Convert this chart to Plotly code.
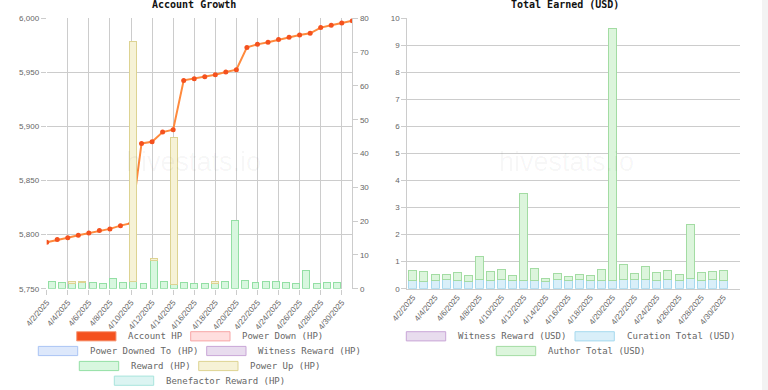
import plotly.graph_objects as go

# ---------------- data ----------------
dates = ["4/2/2025", "4/3/2025", "4/4/2025", "4/5/2025", "4/6/2025", "4/7/2025",
         "4/8/2025", "4/9/2025", "4/10/2025", "4/11/2025", "4/12/2025", "4/13/2025",
         "4/14/2025", "4/15/2025", "4/16/2025", "4/17/2025", "4/18/2025", "4/19/2025",
         "4/20/2025", "4/21/2025", "4/22/2025", "4/23/2025", "4/24/2025", "4/25/2025",
         "4/26/2025", "4/27/2025", "4/28/2025", "4/29/2025", "4/30/2025", "5/1/2025"]

account_hp = [5793.0, 5795.4, 5797.2, 5799.4, 5801.6, 5803.7, 5805.3, 5808.3, 5810.5,
              5884.3, 5885.8, 5894.8, 5897.0, 5942.6, 5944.2, 5946.0, 5947.9, 5950.4,
              5952.5, 5973.1, 5975.9, 5977.8, 5980.3, 5982.4, 5984.6, 5986.1, 5991.4,
              5993.5, 5995.7, 5997.8]

reward_hp = [2.0, 1.8, 1.6, 1.8, 1.8, 1.4, 3.1, 1.8, 2.1, 1.6, 8.2, 2.1, 1.3, 1.8, 1.4,
             1.6, 1.4, 2.0, 20.3, 2.4, 1.8, 2.2, 2.0, 1.9, 1.5, 5.3, 1.6, 1.9, 1.9, None]

power_up_hp = [None, None, 0.4, 0.2, None, None, None, None, 71.1, None, 0.7, None, 43.5,
               None, None, None, 0.7, None, None, None, None, None, None, None, None,
               None, None, None, None, None]

curation_usd = [0.31, 0.27, 0.31, 0.35, 0.31, 0.27, 0.35, 0.31, 0.35, 0.31, 0.30, 0.31,
                0.27, 0.35, 0.31, 0.35, 0.31, 0.31, 0.31, 0.35, 0.35, 0.35, 0.31, 0.35,
                0.31, 0.39, 0.31, 0.35, 0.31, None]

author_usd = [0.37, 0.36, 0.23, 0.19, 0.28, 0.21, 0.85, 0.33, 0.37, 0.18, 3.23, 0.44,
              0.10, 0.21, 0.15, 0.18, 0.18, 0.41, 9.31, 0.55, 0.21, 0.48, 0.29, 0.33,
              0.22, 1.97, 0.29, 0.28, 0.35, None]

left_legend = ["Account HP", "Power Down (HP)", "Power Downed To (HP)", "Witness Reward (HP)",
               "Reward (HP)", "Power Up (HP)", "Benefactor Reward (HP)"]
right_legend = ["Witness Reward (USD)", "Curation Total (USD)", "Author Total (USD)"]

# ---------------- styles ----------------
W, H = 768, 390
def px(x):
    return x / W
def py(y):
    return 1 - y / H

GRID = "#cccccc"
TICKFONT = dict(family="Liberation Sans, Arial, sans-serif", size=8, color="#666666")
MONO = "DejaVu Sans Mono, monospace"

colors = {
    "Account HP": ("#f4511e", "#f79c7c"),
    "Power Down (HP)": ("#ffdede", "#f7a6a6"),
    "Power Downed To (HP)": ("#dde8fb", "#a9c4f4"),
    "Witness Reward (HP)": ("#e8dcee", "#c9a6d7"),
    "Reward (HP)": ("#d8f7df", "#93dfa4"),
    "Power Up (HP)": ("#f6f2d6", "#ddd392"),
    "Benefactor Reward (HP)": ("#dcf4f2", "#a8e4dc"),
    "Witness Reward (USD)": ("#e8dcee", "#c9a6d7"),
    "Curation Total (USD)": ("#d9eff9", "#a6d9ee"),
    "Author Total (USD)": ("#dcf5dc", "#a3dca3"),
}

fig = go.Figure()

# left chart bars (hidden offset category axis)
fig.add_trace(go.Bar(x=dates, y=reward_hp, xaxis="x2", yaxis="y2", width=0.68,
                     marker=dict(color=colors["Reward (HP)"][0],
                                 line=dict(color=colors["Reward (HP)"][1], width=1)),
                     showlegend=False, name="Reward (HP)"))
fig.add_trace(go.Bar(x=dates, y=power_up_hp, xaxis="x2", yaxis="y2", width=0.68,
                     marker=dict(color=colors["Power Up (HP)"][0],
                                 line=dict(color=colors["Power Up (HP)"][1], width=1)),
                     showlegend=False, name="Power Up (HP)"))
# left chart line
fig.add_trace(go.Scatter(x=dates, y=account_hp, xaxis="x", yaxis="y", mode="lines+markers",
                         line=dict(color="#ff8a3d", width=2),
                         marker=dict(color="#f4511e", size=5),
                         showlegend=False, name="Account HP"))

# right chart bars
fig.add_trace(go.Bar(x=dates, y=curation_usd, xaxis="x3", yaxis="y3", width=0.72,
                     marker=dict(color=colors["Curation Total (USD)"][0],
                                 line=dict(color=colors["Curation Total (USD)"][1], width=1)),
                     showlegend=False, name="Curation Total (USD)"))
fig.add_trace(go.Bar(x=dates, y=author_usd, xaxis="x3", yaxis="y3", width=0.72,
                     marker=dict(color=colors["Author Total (USD)"][0],
                                 line=dict(color=colors["Author Total (USD)"][1], width=1)),
                     showlegend=False, name="Author Total (USD)"))

n = len(dates)
even_dates = dates[::2]
LX = [px(46.7), px(352.3)]
RX = [px(407.3), px(740.0)]
YD = [py(288.7), py(18.3)]

fig.update_layout(
    width=W, height=H, margin=dict(l=0, r=0, t=0, b=0, pad=0, autoexpand=False),
    paper_bgcolor="white", plot_bgcolor="white",
    barmode="stack", showlegend=False,
    xaxis=dict(domain=LX, anchor="y", type="category", range=[0, n - 1],
               tickmode="array", tickvals=even_dates, ticktext=even_dates,
               tickangle=-50, tickfont=TICKFONT, showgrid=True, gridcolor=GRID, gridwidth=1,
               ticks="outside", ticklen=5, tickcolor=GRID, showline=False, zeroline=False,
               automargin=False),
    xaxis2=dict(domain=LX, anchor="y2", overlaying="x", type="category",
                range=[-0.5, n - 0.5], visible=False, automargin=False),
    yaxis=dict(domain=YD, anchor="x", range=[5750, 6000], dtick=50, tickformat=",",
               tickfont=TICKFONT, showgrid=True, gridcolor=GRID, ticks="outside",
               ticklen=5, tickcolor=GRID, zeroline=False, showline=False, automargin=False),
    yaxis2=dict(anchor="x", overlaying="y", side="right", range=[0, 80], dtick=10,
                tickfont=TICKFONT, showgrid=False, ticks="outside", ticklen=5,
                tickcolor=GRID, showline=True, linecolor=GRID, zeroline=False,
                automargin=False),
    xaxis3=dict(domain=RX, anchor="y3", type="category", range=[-0.5, n - 0.5],
                tickmode="array", tickvals=even_dates, ticktext=even_dates,
                tickangle=-50, tickfont=TICKFONT, showgrid=False, ticks="",
                showline=True, linecolor=GRID, zeroline=False, automargin=False),
    xaxis4=dict(domain=RX, anchor="y3", overlaying="x3", type="linear",
                range=[-0.5, n - 0.5], tickmode="array",
                tickvals=list(range(1, n, 2)), ticktext=[""] * len(range(1, n, 2)),
                showgrid=True, gridcolor=GRID, ticks="outside", ticklen=5,
                tickcolor=GRID, zeroline=False, showline=False, automargin=False),
    yaxis3=dict(domain=YD, anchor="x3", range=[0, 10], dtick=1, tickfont=TICKFONT,
                showgrid=True, gridcolor=GRID, ticks="outside", ticklen=5,
                tickcolor=GRID, showline=True, linecolor=GRID, zeroline=False,
                automargin=False),
)

annotations = []
shapes = []

# titles
annotations.append(dict(text="<b>Account Growth</b>", x=px(194), y=py(5), xref="paper",
                        yref="paper", showarrow=False, xanchor="center", yanchor="middle",
                        font=dict(family=MONO, size=10, color="#111111")))
annotations.append(dict(text="<b>Total Earned (USD)</b>", x=px(565), y=py(5), xref="paper",
                        yref="paper", showarrow=False, xanchor="center", yanchor="middle",
                        font=dict(family=MONO, size=10, color="#111111")))

# watermarks
for cx in (193, 566):
    annotations.append(dict(text="hivestats.io", x=px(cx), y=py(162), xref="paper",
                            yref="paper", showarrow=False, xanchor="center",
                            yanchor="middle",
                            font=dict(family="Liberation Sans, Arial, sans-serif",
                                      size=27, color="rgba(0,0,0,0.04)")))

# custom chart-style legends (box x0, box x1, row y, text x)
legend_pos = {
    "Account HP": (76.7, 116.0, 336.3, 126.0),
    "Power Down (HP)": (190.7, 230.0, 336.3, 240.0),
    "Power Downed To (HP)": (38.3, 77.7, 351.0, 88.3),
    "Witness Reward (HP)": (206.7, 246.0, 351.0, 256.0),
    "Reward (HP)": (79.3, 118.7, 366.0, 129.3),
    "Power Up (HP)": (198.7, 238.0, 366.0, 248.3),
    "Benefactor Reward (HP)": (114.3, 153.7, 380.7, 164.3),
    "Witness Reward (USD)": (406.3, 445.7, 336.3, 455.7),
    "Curation Total (USD)": (575.0, 614.3, 336.3, 624.7),
    "Author Total (USD)": (496.3, 535.7, 351.0, 545.7),
}
for name in left_legend + right_legend:
    x0, x1, yc, tx = legend_pos[name]
    fill, border = colors[name]
    shapes.append(dict(type="rect", xref="paper", yref="paper",
                       x0=px(x0), x1=px(x1), y0=py(yc + 4.6), y1=py(yc - 4.6),
                       fillcolor=fill, line=dict(color=border, width=1)))
    annotations.append(dict(text=name, x=px(tx), y=py(yc), xref="paper", yref="paper",
                            showarrow=False, xanchor="left", yanchor="middle",
                            font=dict(family=MONO, size=9, color="#666666")))

# faint page edge on the right
shapes.append(dict(type="rect", xref="paper", yref="paper", x0=px(762), x1=1, y0=0, y1=1,
                   fillcolor="#f3f3f3", line=dict(width=0), layer="below"))

fig.update_layout(annotations=annotations, shapes=shapes)

fig.write_html("out.html",
               config={"displayModeBar": False, "staticPlot": True},
               post_script="document.body.style.margin='0';document.body.style.overflow='hidden';")
